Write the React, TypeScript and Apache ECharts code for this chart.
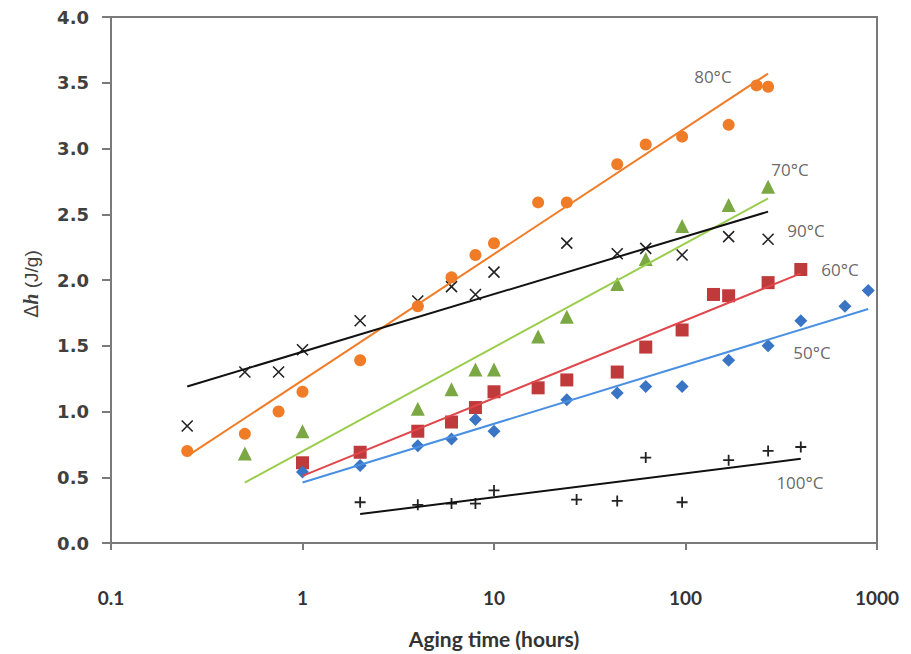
import React, { useEffect, useRef } from "react";
import * as echarts from "echarts";

// ---- data ----
const x80 = [0.25, 0.5, 0.75, 1, 2, 4, 6, 8, 10, 17, 24, 44, 62, 96, 168, 235, 270];
const y80 = [0.70, 0.83, 1.00, 1.15, 1.39, 1.80, 2.02, 2.19, 2.28, 2.59, 2.59, 2.88, 3.03, 3.09, 3.18, 3.48, 3.47];

const x70 = [0.5, 1, 4, 6, 8, 10, 17, 24, 44, 62, 96, 168, 270];
const y70 = [0.68, 0.85, 1.02, 1.17, 1.32, 1.32, 1.57, 1.72, 1.97, 2.16, 2.41, 2.57, 2.71];

const x90 = [0.25, 0.5, 0.75, 1, 2, 4, 6, 8, 10, 24, 44, 62, 96, 168, 270];
const y90 = [0.89, 1.30, 1.30, 1.47, 1.69, 1.84, 1.95, 1.89, 2.06, 2.28, 2.20, 2.24, 2.19, 2.33, 2.31];

const x60 = [1, 2, 4, 6, 8, 10, 17, 24, 44, 62, 96, 140, 168, 270, 400];
const y60 = [0.61, 0.69, 0.85, 0.92, 1.03, 1.15, 1.18, 1.24, 1.30, 1.49, 1.62, 1.89, 1.88, 1.98, 2.08];

const x50 = [1, 2, 4, 6, 8, 10, 24, 44, 62, 96, 168, 270, 400, 680, 900];
const y50 = [0.54, 0.59, 0.74, 0.79, 0.94, 0.85, 1.09, 1.14, 1.19, 1.19, 1.39, 1.50, 1.69, 1.80, 1.92];

const x100 = [2, 4, 6, 8, 10, 27, 44, 62, 96, 168, 270, 400];
const y100 = [0.31, 0.29, 0.30, 0.30, 0.40, 0.33, 0.32, 0.65, 0.31, 0.63, 0.70, 0.73];

// fitted trend lines: [start, end]
const trend80X = [0.25, 270];
const trend80Y = [0.66, 3.57];
const trend70X = [0.5, 270];
const trend70Y = [0.46, 2.62];
const trend90X = [0.25, 270];
const trend90Y = [1.19, 2.52];
const trend60X = [1, 400];
const trend60Y = [0.51, 2.05];
const trend50X = [1, 900];
const trend50Y = [0.46, 1.78];
const trend100X = [2, 400];
const trend100Y = [0.22, 0.64];

// curve annotations
const labelNames = ["80°C", "70°C", "90°C", "60°C", "50°C", "100°C"];
const labelX = [139, 351, 426, 641, 458, 396];
const labelY = [3.55, 2.84, 2.38, 2.08, 1.45, 0.46];

const xTicks = [0.1, 1, 10, 100, 1000];

const zip = (xs: number[], ys: number[]) => xs.map((x, i) => [x, ys[i]]);

const CROSS = "path://M0,0L10,10M10,0L0,10";
const PLUS = "path://M5,0L5,10M0,5L10,5";

export default function App() {
  const ref = useRef<HTMLDivElement>(null);
  useEffect(() => {
    if (!ref.current) return;
    const chart = echarts.init(ref.current, undefined, { renderer: "svg" });

    const scatter = (data: number[][], symbol: string, size: number, color: string, extra: any = {}) => ({
      type: "scatter",
      data,
      symbol,
      symbolSize: size,
      itemStyle: { color, opacity: 1, ...extra },
      z: 3,
    });
    const line = (data: number[][], color: string) => ({
      type: "line",
      data,
      showSymbol: false,
      symbol: "none",
      lineStyle: { color, width: 2 },
      z: 4,
    });

    chart.setOption({
      animation: false,
      backgroundColor: "#ffffff",
      grid: {
        left: 111,
        top: 17,
        width: 766,
        height: 534,
        show: true,
        borderColor: "#7a7a7a",
        borderWidth: 2,
        backgroundColor: "transparent",
      },
      xAxis: {
        type: "log",
        logBase: 10,
        min: 0.1,
        max: 1000,
        axisLine: { show: true, lineStyle: { color: "#7a7a7a", width: 2 } },
        axisTick: { show: true, inside: false, length: 7, lineStyle: { color: "#7a7a7a", width: 2 } },
        splitLine: { show: false },
        minorTick: { show: false },
        axisLabel: {
          margin: 45,
          fontSize: 19,
          fontWeight: "bold",
          fontFamily: "Lato",
          color: "#333333",
          formatter: (v: number) => {
            const t = xTicks.find((k) => Math.abs(k - v) / k < 1e-6);
            return t !== undefined ? String(t) : "";
          },
        },
        name: "Aging time (hours)",
        nameLocation: "middle",
        nameGap: 85,
        nameTextStyle: { fontSize: 21, fontWeight: "bold", fontFamily: "Lato", color: "#333333" },
      },
      yAxis: {
        type: "value",
        min: 0,
        max: 4,
        interval: 0.5,
        axisLine: { show: true, lineStyle: { color: "#7a7a7a", width: 2 } },
        axisTick: { show: true, inside: false, length: 9, lineStyle: { color: "#7a7a7a", width: 2 } },
        splitLine: { show: false },
        axisLabel: {
          margin: 22,
          fontSize: 18,
          fontWeight: "bold",
          fontFamily: "DejaVu Sans",
          color: "#404040",
          formatter: (v: number) => v.toFixed(1),
        },
      },
      graphic: [
        {
          type: "text",
          x: 31,
          y: 284,
          rotation: Math.PI / 2,
          style: {
            text: "{d|Δ}{h|h} {s|(J/g)}",
            align: "center",
            verticalAlign: "middle",
            fontSize: 19,
            fontFamily: "Liberation Sans",
            fill: "#404040",
            rich: {
              d: { fontSize: 19, fontFamily: "DejaVu Sans", fill: "#404040" },
              h: { fontSize: 20, fontFamily: "Liberation Serif", fontStyle: "italic", fontWeight: "bold", fill: "#404040" },
              s: { fontSize: 19, fontFamily: "Liberation Sans", fill: "#404040" },
            },
          },
        },
      ],
      series: [
        scatter(zip(x90, y90), CROSS, 11, "transparent", { borderColor: "#222222", borderWidth: 1.6 }),
        scatter(zip(x100, y100), PLUS, 11, "transparent", { borderColor: "#222222", borderWidth: 1.8 }),
        scatter(zip(x80, y80), "circle", 12, "#F07C28"),
        scatter(zip(x70, y70), "triangle", 14, "#7BA843"),
        scatter(zip(x60, y60), "rect", 13, "#C0393B"),
        scatter(zip(x50, y50), "diamond", 13, "#3A74C4"),
        line(zip(trend80X, trend80Y), "#F07C28"),
        line(zip(trend70X, trend70Y), "#9ACD4C"),
        line(zip(trend90X, trend90Y), "#111111"),
        line(zip(trend60X, trend60Y), "#E0474C"),
        line(zip(trend50X, trend50Y), "#4A90E2"),
        line(zip(trend100X, trend100Y), "#111111"),
        {
          type: "scatter",
          data: labelNames.map((n, i) => ({ name: n, value: [labelX[i], labelY[i]] })),
          symbolSize: 1,
          itemStyle: { color: "transparent" },
          label: {
            show: true,
            position: "inside",
            formatter: "{b}",
            fontSize: 17,
            fontFamily: "Open Sans",
            color: "#404040",
          },
          z: 5,
        },
      ],
    });
    return () => chart.dispose();
  }, []);
  return (
    <div
      ref={ref}
      style={{ position: "absolute", left: 0, top: 0, width: 911, height: 654, background: "#fff" }}
    />
  );
}
